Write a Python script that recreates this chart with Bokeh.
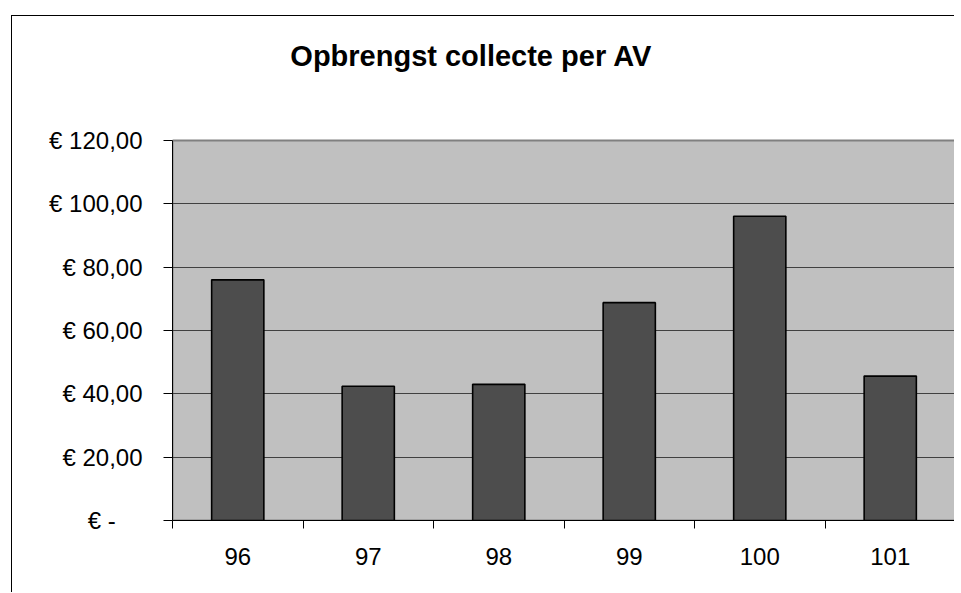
from bokeh.plotting import figure
from bokeh.models import FixedTicker, ColumnDataSource, Label, Range1d
from bokeh.embed import file_html
from bokeh.resources import INLINE

# ---- data ----
categories = ["96", "97", "98", "99", "100", "101"]
values = [76.0, 42.4, 43.0, 68.8, 96.1, 45.6]
y_ticks = [0, 20, 40, 60, 80, 100, 120]
y_tick_labels = ["€ -\u2007\u2007", "€ 20,00", "€ 40,00", "€ 60,00",
                 "€ 80,00", "€ 100,00", "€ 120,00"]
title_text = "Opbrengst collecte per AV"

FONT = "Liberation Sans"
Y_MAX = y_ticks[-1]

# layout: plot area 380 px tall for 0..120, frame extended upward to hold title
FIG_H = 577
BOTTOM = 73
AREA_H = 380
frame_h = FIG_H - BOTTOM
y_top = Y_MAX * frame_h / AREA_H

x_pos = [i + 0.5 for i in range(len(categories))]
src = ColumnDataSource(data=dict(x=x_pos, top=values, cat=categories))

p = figure(width=943, height=FIG_H, x_range=Range1d(0, len(categories)),
           y_range=Range1d(0, y_top),
           output_backend="svg", toolbar_location=None,
           min_border_left=160, min_border_right=0, min_border_top=0,
           min_border_bottom=BOTTOM)
p.margin = (15, 0, 0, 11)
p.styles = {"border-left": "1px solid black", "border-top": "1px solid black"}

p.background_fill_color = "white"
p.border_fill_color = "white"
p.outline_line_color = None

# plot area background (grey) with grey border
p.quad(left=[0], right=[len(categories)], bottom=[0], top=[Y_MAX],
       fill_color="#C0C0C0", line_color="#808080", line_width=2, level="image")

# chart title
title = Label(x=2.29, y=Y_MAX + 85 * Y_MAX / AREA_H, text=title_text,
              text_font=FONT, text_font_size="29px", text_font_style="bold",
              text_color="black", text_align="center", text_baseline="alphabetic")
p.add_layout(title)

# bars
p.vbar(x="x", top="top", width=0.4, source=src, fill_color="#4D4D4D",
       line_color="black", line_width=1.6)

# y axis
p.yaxis.ticker = FixedTicker(ticks=y_ticks)
p.yaxis.bounds = (0, Y_MAX)
p.yaxis.major_label_overrides = {t: l for t, l in zip(y_ticks, y_tick_labels)}
p.yaxis.major_tick_out = 9
p.yaxis.major_tick_in = 0
p.yaxis.minor_tick_line_color = None
p.yaxis.axis_line_color = "black"
p.yaxis.major_tick_line_color = "black"
p.yaxis.major_label_text_font = FONT
p.yaxis.major_label_text_font_size = "24px"
p.yaxis.major_label_text_color = "black"
p.yaxis.major_label_standoff = 21

# x axis: labels at centres, ticks at category boundaries
p.xaxis.ticker = FixedTicker(ticks=x_pos, minor_ticks=list(range(len(categories) + 1)))
p.xaxis.major_label_overrides = {xp: c for xp, c in zip(x_pos, categories)}
p.xaxis.major_tick_line_color = None
p.xaxis.minor_tick_out = 8
p.xaxis.minor_tick_in = 0
p.xaxis.minor_tick_line_color = "black"
p.xaxis.axis_line_color = "black"
p.xaxis.major_label_text_font = FONT
p.xaxis.major_label_text_font_size = "24px"
p.xaxis.major_label_text_color = "black"
p.xaxis.major_label_standoff = 19

# grid (inside plot area only)
p.xgrid.grid_line_color = None
p.ygrid.ticker = FixedTicker(ticks=[t for t in y_ticks if t < Y_MAX])
p.ygrid.grid_line_color = "#404040"
p.ygrid.grid_line_width = 1

open("out.html", "w").write(file_html(p, INLINE))
